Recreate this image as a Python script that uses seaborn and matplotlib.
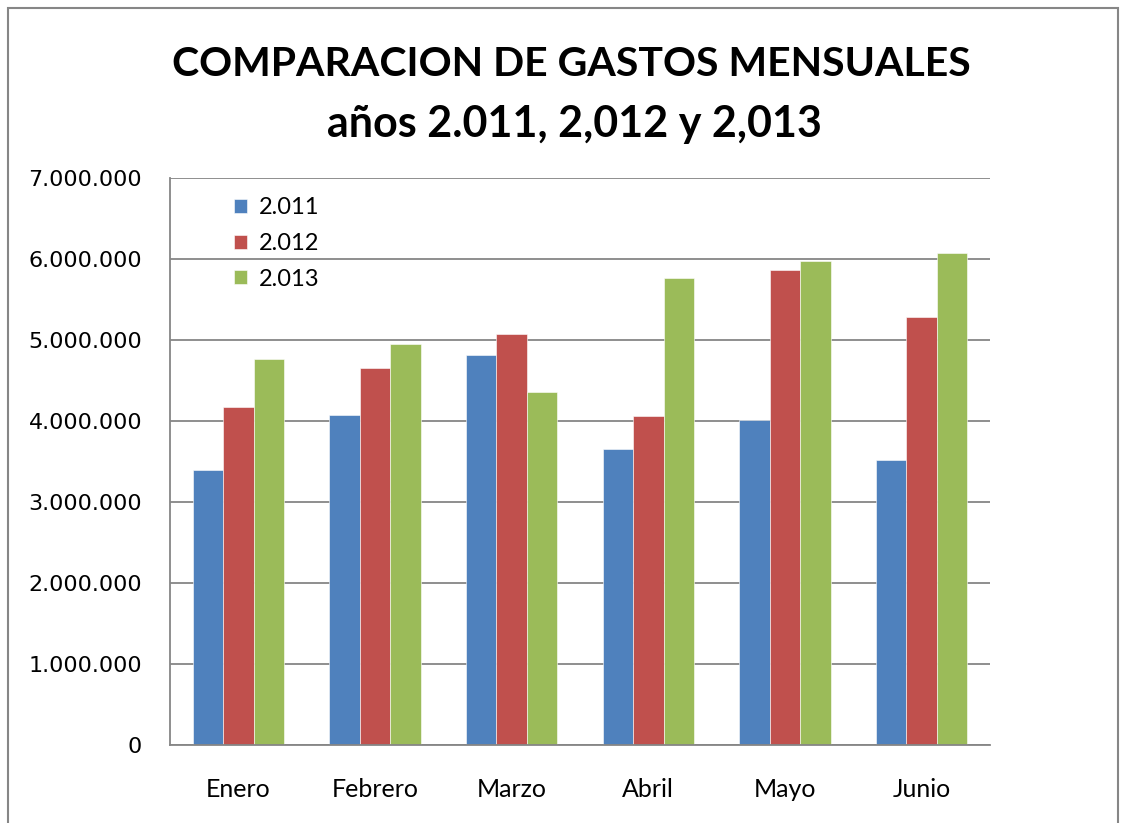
import matplotlib.pyplot as plt
import seaborn as sns
import pandas as pd
from matplotlib.patches import Rectangle
from matplotlib.ticker import FuncFormatter

meses = ['Enero', 'Febrero', 'Marzo', 'Abril', 'Mayo', 'Junio']
anios = ['2.011', '2.012', '2.013']
gastos_2011 = [3390000, 4080000, 4810000, 3650000, 4010000, 3520000]
gastos_2012 = [4170000, 4660000, 5070000, 4060000, 5860000, 5280000]
gastos_2013 = [4770000, 4950000, 4360000, 5770000, 5970000, 6070000]
colores = ['#4F81BD', '#C0504D', '#9BBB59']

df = pd.DataFrame({
    'mes': meses * 3,
    'anio': [anios[0]] * 6 + [anios[1]] * 6 + [anios[2]] * 6,
    'gasto': gastos_2011 + gastos_2012 + gastos_2013,
})

sns.set_style('white')
plt.rcParams['font.family'] = ['Lato', 'DejaVu Sans']
plt.rcParams['text.color'] = 'black'
plt.rcParams['xtick.color'] = 'black'
plt.rcParams['ytick.color'] = 'black'

fig = plt.figure(figsize=(11.3, 8.23), dpi=100)
ax = fig.add_axes([170 / 1130, 1 - 745 / 823, 820 / 1130, 567 / 823])

sns.barplot(data=df, x='mes', y='gasto', hue='anio', palette=colores,
            width=0.667, saturation=1, ax=ax, edgecolor='white', linewidth=0.4)

ax.set_ylim(0, 7000000)
ax.set_yticks(range(0, 7000001, 1000000))
ax.yaxis.set_major_formatter(FuncFormatter(lambda v, p: f'{int(v):,}'.replace(',', '.')))
ax.set_xlabel('')
ax.set_ylabel('')
ax.grid(axis='y', color='#868686', linewidth=1.3)
ax.set_axisbelow(True)
for s in ['top', 'right']:
    ax.spines[s].set_visible(False)
for s in ['left', 'bottom']:
    ax.spines[s].set_color('#868686')
    ax.spines[s].set_linewidth(1.3)
ax.tick_params(axis='y', length=0, pad=20)
ax.tick_params(axis='x', length=0, pad=24, labelsize=18)
for lab in ax.get_yticklabels():
    lab.set_family('DejaVu Sans')
    lab.set_fontsize(16)

ax.legend(loc='upper left', bbox_to_anchor=(0.058, 0.995), frameon=False, title=None,
          fontsize=17, handlelength=0.55, handleheight=0.55, handletextpad=0.5,
          labelspacing=0.62, borderaxespad=0.3)

fig.text(0.506, 1 - 64 / 823, 'COMPARACION DE GASTOS MENSUALES', ha='center', va='center',
         fontsize=29.5, fontweight='bold')
fig.text(0.508, 1 - 124 / 823, 'años 2.011, 2,012 y 2,013', ha='center', va='center',
         fontsize=31, fontweight='bold')

fig.patches.append(Rectangle((8 / 1130, -0.05), 1110 / 1130, 1.05 - 8 / 823,
                             transform=fig.transFigure, fill=False,
                             edgecolor='#868686', linewidth=1.5))

plt.savefig('out.png', dpi=100)
